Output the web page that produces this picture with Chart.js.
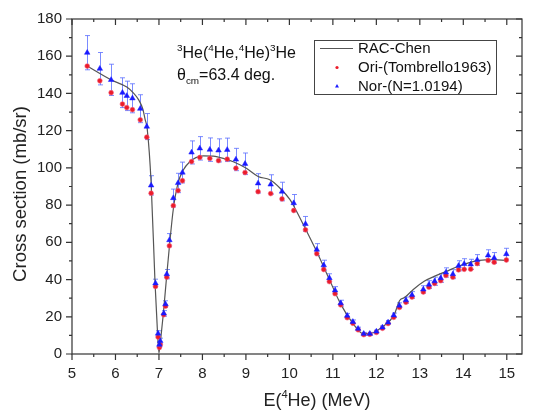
<!DOCTYPE html>
<html>
<head>
<meta charset="utf-8">
<script src="https://cdn.jsdelivr.net/npm/chart.js@4.4.1/dist/chart.umd.min.js"></script>
<style>
  html, body { margin: 0; padding: 0; background: #fff; }
  #wrap { width: 535px; height: 414px; }
</style>
</head>
<body>
<div id="wrap"><canvas id="c" width="535" height="414"></canvas></div>
<script>
// measured points (same energies for both data sets)
const energy = [5.35, 5.64, 5.90, 6.16, 6.26, 6.39, 6.57, 6.72, 6.82, 6.92,
  6.98, 7.01, 7.03, 7.11, 7.15, 7.18, 7.24, 7.33, 7.44, 7.54,
  7.75, 7.94, 8.17, 8.37, 8.57, 8.77, 8.98, 9.28, 9.57, 9.83,
  10.10, 10.37, 10.63, 10.79, 10.92, 11.05, 11.18, 11.33, 11.46, 11.58,
  11.71, 11.85, 12.00, 12.14, 12.27, 12.40, 12.53, 12.68, 12.82, 13.08,
  13.21, 13.34, 13.48, 13.60, 13.76, 13.89, 14.02, 14.17, 14.32, 14.57,
  14.71, 14.99];
const oriSigma = [154.7, 146.8, 140.4, 134.3, 132.4, 131.3, 125.8, 116.5, 86.4, 36.3,
  9.1, 3.5, 5.0, 21.1, 25.7, 41.3, 58.1, 79.7, 87.8, 93.1,
  103.4, 105.6, 105.1, 103.9, 104.7, 99.8, 97.5, 87.2, 86.2, 83.3,
  77.1, 66.7, 53.9, 45.4, 38.9, 32.4, 26.4, 19.5, 16.5, 13.0,
  10.4, 10.6, 11.6, 13.8, 16.4, 19.7, 25.0, 27.8, 30.6, 33.3,
  35.9, 37.9, 39.4, 42.2, 41.3, 45.2, 45.5, 45.6, 48.6, 50.3,
  49.3, 50.5];
const norSigma = [161.9, 153.3, 147.3, 140.4, 138.7, 137.4, 131.8, 122.2, 90.6, 38.0,
  11.0, 5.0, 7.0, 21.8, 26.8, 42.9, 61.2, 83.8, 91.9, 97.5,
  108.3, 110.5, 109.8, 109.4, 109.7, 104.5, 102.2, 91.7, 91.1, 87.3,
  81.1, 69.9, 56.1, 47.7, 40.8, 34.2, 27.3, 20.6, 17.3, 13.6,
  10.9, 10.9, 12.1, 14.3, 17.0, 20.8, 26.0, 28.9, 31.7, 34.7,
  37.3, 39.1, 40.8, 43.8, 42.9, 47.4, 48.4, 48.2, 50.5, 53.0,
  51.6, 53.7];
const norErr = [9.2, 8.7, 8.4, 8.0, 7.9, 7.8, 7.5, 7.0, 5.2, 2.2,
  1.5, 1.5, 1.5, 1.5, 1.8, 2.5, 3.5, 4.8, 5.2, 5.6,
  6.2, 6.3, 6.3, 6.2, 6.3, 6.0, 5.8, 5.2, 5.2, 5.0,
  4.6, 4.0, 3.2, 2.7, 2.3, 2.0, 1.6, 1.2, 1.0, 0.8,
  0.7, 0.7, 0.7, 0.8, 1.0, 1.2, 1.5, 1.7, 1.8, 2.0,
  2.1, 2.2, 2.3, 2.5, 2.4, 2.7, 2.8, 2.7, 2.9, 3.0,
  2.9, 3.1];

// RAC-Chen calculation
const curveE = [5.35, 5.90, 6.26, 6.41, 6.53, 6.63, 6.68, 6.73, 6.82, 6.91,
  6.97, 7.00, 7.04, 7.10, 7.18, 7.25, 7.33, 7.44, 7.56, 7.71,
  7.85, 8.02, 8.25, 8.48, 8.71, 9.01, 9.28, 9.55, 9.78, 10.01,
  10.10, 10.37, 10.63, 10.92, 11.18, 11.46, 11.70, 11.85, 12.08, 12.13,
  12.40, 12.54, 12.65, 12.85, 13.10, 13.33, 13.60, 13.87, 14.14, 14.37,
  14.68, 14.99];
const curveSigma = [154.7, 147.3, 143.4, 140.3, 136.7, 131.5, 126.2, 120.9, 91.9, 38.2,
  10.0, 0.5, 8.0, 21.5, 42.6, 60.2, 77.8, 91.9, 98.9, 103.3,
  105.5, 106.5, 106.3, 105.1, 103.3, 99.8, 95.4, 93.6, 89.2, 83.1,
  79.5, 67.2, 54.9, 40.0, 26.8, 16.5, 10.9, 10.9, 13.6, 14.4,
  20.6, 28.9, 30.3, 34.7, 39.1, 41.7, 44.3, 47.0, 49.1, 50.3,
  50.7, 50.3];

const seriesNames = ["RAC-Chen", "Ori-(Tombrello1963)", "Nor-(N=1.0194)"];
const xTicks = [5, 6, 7, 8, 9, 10, 11, 12, 13, 14, 15];
const xMinor = [5.5, 6.5, 7.5, 8.5, 9.5, 10.5, 11.5, 12.5, 13.5, 14.5];
const yTicks = [0, 20, 40, 60, 80, 100, 120, 140, 160, 180];
const yMinor = [10, 30, 50, 70, 90, 110, 130, 150, 170];

const FONT = "'Liberation Sans', Arial, sans-serif";
const RED = "#ec1c2a", BLUE = "#1a1aff";

const pts = (xs, ys) => xs.map((v, i) => ({ x: v, y: ys[i] }));

// blue error bars, drawn under the markers
const errorBars = {
  id: "errorBars",
  beforeDatasetsDraw(chart) {
    const { ctx, scales: { x, y } } = chart;
    ctx.save();
    ctx.strokeStyle = "rgba(90,110,255,0.8)";
    ctx.lineWidth = 1;
    energy.forEach((e, i) => {
      const px = Math.round(x.getPixelForValue(e)) + 0.5;
      const yt = y.getPixelForValue(norSigma[i] + norErr[i]);
      const yb = y.getPixelForValue(norSigma[i] - norErr[i]);
      ctx.beginPath();
      ctx.moveTo(px, yt); ctx.lineTo(px, yb);
      ctx.moveTo(px - 2.5, yt); ctx.lineTo(px + 2.5, yt);
      ctx.moveTo(px - 2.5, yb); ctx.lineTo(px + 2.5, yb);
      ctx.stroke();
    });
    ctx.restore();
  }
};

// text with super/subscripts; returns the width
function richText(ctx, x, y, size, segs, draw = true) {
  let cx = x;
  segs.forEach(s => {
    const fs = s.k ? size * 0.62 : size;
    const dy = s.k === "sup" ? -size * 0.42 : s.k === "sub" ? size * 0.28 : 0;
    ctx.font = fs + "px " + FONT;
    if (draw) ctx.fillText(s.t, cx, y + dy);
    cx += ctx.measureText(s.t).width;
  });
  return cx - x;
}

// frame, Origin style ticks, titles, note and legend
const decor = {
  id: "decor",
  afterDraw(chart) {
    const { ctx, chartArea: a, scales: { x, y } } = chart;
    ctx.save();
    ctx.strokeStyle = "#333";
    ctx.lineWidth = 1.2;
    ctx.strokeRect(a.left, a.top, a.right - a.left, a.bottom - a.top);
    ctx.beginPath();
    const xt = (v, len) => {
      const px = x.getPixelForValue(v);
      ctx.moveTo(px, a.bottom); ctx.lineTo(px, a.bottom + len);
      ctx.moveTo(px, a.top); ctx.lineTo(px, a.top + len);
    };
    const yt = (v, len) => {
      const py = y.getPixelForValue(v);
      ctx.moveTo(a.left - len, py); ctx.lineTo(a.left, py);
      ctx.moveTo(a.right - len, py); ctx.lineTo(a.right, py);
    };
    xTicks.forEach(v => xt(v, 6));
    xMinor.forEach(v => xt(v, 3));
    yTicks.forEach(v => yt(v, 6));
    yMinor.forEach(v => yt(v, 3));
    ctx.stroke();

    ctx.fillStyle = "#222";
    ctx.textBaseline = "alphabetic";
    ctx.textAlign = "left";

    // axis titles
    const xTitle = [{ t: "E(" }, { t: "4", k: "sup" }, { t: "He) (MeV)" }];
    const w = richText(ctx, 0, 0, 18, xTitle, false);
    richText(ctx, 317 - w / 2, 406, 18, xTitle);
    ctx.save();
    ctx.translate(26, 194);
    ctx.rotate(-Math.PI / 2);
    ctx.font = "18.5px " + FONT;
    ctx.textAlign = "center";
    ctx.fillText("Cross section (mb/sr)", 0, 0);
    ctx.restore();

    // reaction note
    ctx.fillStyle = "#111";
    richText(ctx, 177, 57.5, 16, [
      { t: "3", k: "sup" }, { t: "He(" }, { t: "4", k: "sup" }, { t: "He," },
      { t: "4", k: "sup" }, { t: "He)" }, { t: "3", k: "sup" }, { t: "He" }]);
    richText(ctx, 177, 80, 16, [{ t: "θ" }, { t: "cm", k: "sub" }, { t: "=63.4 deg." }]);

    // legend
    ctx.strokeStyle = "#444";
    ctx.lineWidth = 1;
    ctx.strokeRect(314.5, 40.5, 182, 54);
    ctx.strokeStyle = "#555";
    ctx.lineWidth = 1.2;
    ctx.beginPath(); ctx.moveTo(320, 48.5); ctx.lineTo(353, 48.5); ctx.stroke();
    ctx.fillStyle = RED;
    ctx.beginPath(); ctx.arc(337, 67.5, 1.6, 0, Math.PI * 2); ctx.fill();
    ctx.fillStyle = BLUE;
    ctx.beginPath(); ctx.moveTo(337, 84); ctx.lineTo(339, 87.5); ctx.lineTo(335, 87.5); ctx.closePath(); ctx.fill();
    ctx.fillStyle = "#111";
    ctx.font = "15px " + FONT;
    ctx.textBaseline = "middle";
    seriesNames.forEach((n, i) => ctx.fillText(n, 358, 48.5 + i * 19));
    ctx.restore();
  }
};

new Chart(document.getElementById("c"), {
  type: "scatter",
  data: {
    datasets: [
      {
        label: seriesNames[0], type: "line", data: pts(curveE, curveSigma),
        borderColor: "#555", borderWidth: 1.2, pointRadius: 0,
        cubicInterpolationMode: "monotone", fill: false, order: 2
      },
      {
        label: seriesNames[1], data: pts(energy, oriSigma),
        pointStyle: "circle", pointRadius: 2.4,
        backgroundColor: RED, borderColor: "#f2607a", borderWidth: 0.6, order: 1
      },
      {
        label: seriesNames[2], data: pts(energy, norSigma),
        pointStyle: "triangle", pointRadius: 3.2,
        backgroundColor: BLUE, borderColor: BLUE, borderWidth: 0.5, order: 0
      }
    ]
  },
  options: {
    responsive: false,
    animation: false,
    devicePixelRatio: 1,
    layout: { padding: { top: 12, right: 13, bottom: 0, left: 0 } },
    plugins: { legend: { display: false }, tooltip: { enabled: false } },
    scales: {
      x: {
        type: "linear", min: 5, max: 15.35,
        afterFit: s => { s.height = 60; },
        afterBuildTicks: s => { s.ticks = xTicks.map(v => ({ value: v })); },
        grid: { display: false, drawTicks: false },
        border: { display: false },
        ticks: { color: "#222", font: { family: FONT, size: 15 }, padding: 11, maxRotation: 0 }
      },
      y: {
        min: 0, max: 180,
        afterFit: s => { s.width = 72; },
        afterBuildTicks: s => { s.ticks = yTicks.map(v => ({ value: v })); },
        grid: { display: false, drawTicks: false },
        border: { display: false },
        ticks: { color: "#222", font: { family: FONT, size: 15 }, padding: 10 }
      }
    }
  },
  plugins: [errorBars, decor]
});
</script>
</body>
</html>
